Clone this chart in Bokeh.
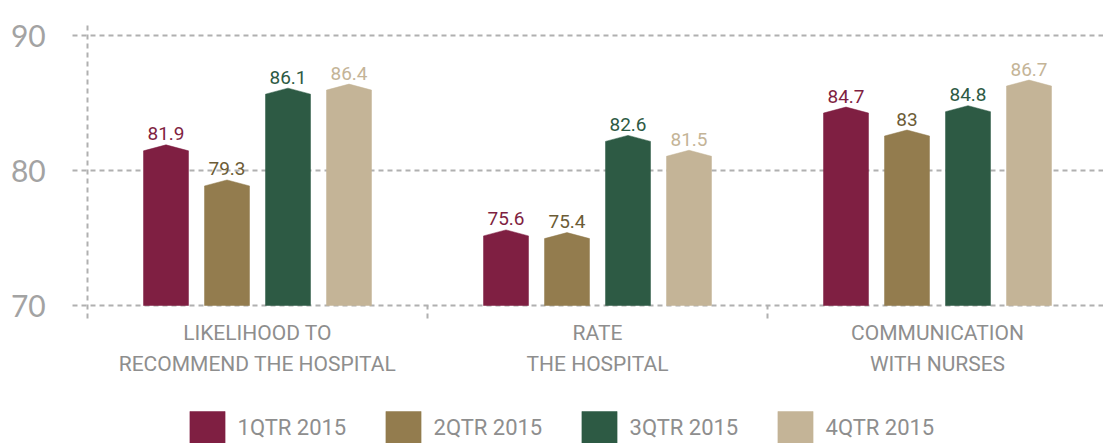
import numpy as np
from bokeh.plotting import figure
from bokeh.models import Range1d, ColumnDataSource, Legend, LegendItem
from bokeh.core.properties import value
from bokeh.embed import file_html
from bokeh.resources import INLINE

# ---- data ----
categories = ["LIKELIHOOD TO\nRECOMMEND THE HOSPITAL", "RATE\nTHE HOSPITAL", "COMMUNICATION\nWITH NURSES"]
series = ["1QTR 2015", "2QTR 2015", "3QTR 2015", "4QTR 2015"]
q1 = [81.9, 75.6, 84.7]
q2 = [79.3, 75.4, 83.0]
q3 = [86.1, 82.6, 84.8]
q4 = [86.4, 81.5, 86.7]
q_labels = [["81.9", "75.6", "84.7"], ["79.3", "75.4", "83"], ["86.1", "82.6", "84.8"], ["86.4", "81.5", "86.7"]]
y_ticks = [70, 80, 90]
y_tick_labels = ["70", "80", "90"]

# ---- styles ----
bar_colors = ["#7f1f42", "#937c4e", "#2d5a44", "#c4b497"]
label_colors = ["#7f1f42", "#6c5c36", "#2d5a44", "#c4b497"]
grid_color = "#b0b0b0"
text_gray = "#8e8e8e"
cond = "Roboto"

W, H = 1103, 443
px_x = 340.0   # pixels per category
px_y = 13.5    # pixels per unit
x0_px = 87.0   # canvas x of category origin
y70_px = 305.0 # canvas y of value 70

base = y_ticks[0]
p = figure(width=W, height=H, output_backend="svg", toolbar_location=None,
           x_axis_type=None, y_axis_type=None, min_border=0,
           x_range=Range1d(-x0_px / px_x, (W - x0_px) / px_x),
           y_range=Range1d(base - (H - y70_px) / px_y, base + y70_px / px_y))
p.outline_line_color = None
p.xgrid.visible = False
p.ygrid.visible = False
p.background_fill_color = "white"

ncat = len(categories)
centers = np.arange(ncat) + 0.5

# gridlines
p.segment(x0=[-15 / px_x] * len(y_ticks), y0=y_ticks, x1=[ncat] * len(y_ticks), y1=y_ticks,
          line_color=grid_color, line_width=2, line_dash="5 4")
# vertical axis line and category dividers
top_ext = y_ticks[-1] + 12 / px_y
bot_ext = base - 13 / px_y
p.segment(x0=[0], y0=[bot_ext], x1=[0], y1=[top_ext], line_color=grid_color, line_width=2, line_dash="5 4")
p.segment(x0=list(range(1, ncat)), y0=[bot_ext] * (ncat - 1), x1=list(range(1, ncat)), y1=[base] * (ncat - 1),
          line_color=grid_color, line_width=2, line_dash="5 4")

# y tick labels
p.text(x=[-0.123] * len(y_ticks), y=y_ticks, text=y_tick_labels, text_align="right",
       text_baseline="alphabetic", text_font=value("Lato"), text_font_size="30px", text_color="#a3a3a3")

# bars
hw = 22.5 / px_x
roof = 6 / px_y
step = 61 / px_x
renderers = []
for i, vals in enumerate([q1, q2, q3, q4]):
    cx = centers + (i - 1.5) * step
    xs, ys = [], []
    for c, v in zip(cx, vals):
        xs.append([c - hw, c - hw, c, c + hw, c + hw])
        ys.append([base, v - roof, v, v - roof, base])
    r = p.patches(xs=xs, ys=ys, fill_color=bar_colors[i], line_color=bar_colors[i], line_width=0.5)
    renderers.append(r)
    src = ColumnDataSource(dict(x=list(cx), y=vals, t=q_labels[i]))
    p.text(x="x", y="y", text="t", source=src, text_align="center", text_baseline="alphabetic",
           y_offset=-11, text_font=value(cond), text_font_size="19px", text_color=label_colors[i])

# category labels
p.text(x=list(centers), y=[base] * ncat, text=categories, text_align="center", text_baseline="top",
       y_offset=15, text_font=value(cond), text_font_size="21px", text_color=text_gray, text_line_height=1.3)

legend = Legend(items=[LegendItem(label=s, renderers=[r]) for s, r in zip(series, renderers)],
                orientation="horizontal", location=(184.6, -4),
                glyph_width=44, glyph_height=40, label_standoff=9, label_width=143, spacing=0,
                padding=0, margin=0, border_line_color=None, background_fill_alpha=0,
                label_text_font=cond, label_text_font_size="22px",
                label_text_color=text_gray)
p.add_layout(legend)

open("out.html", "w").write(file_html(p, INLINE))
